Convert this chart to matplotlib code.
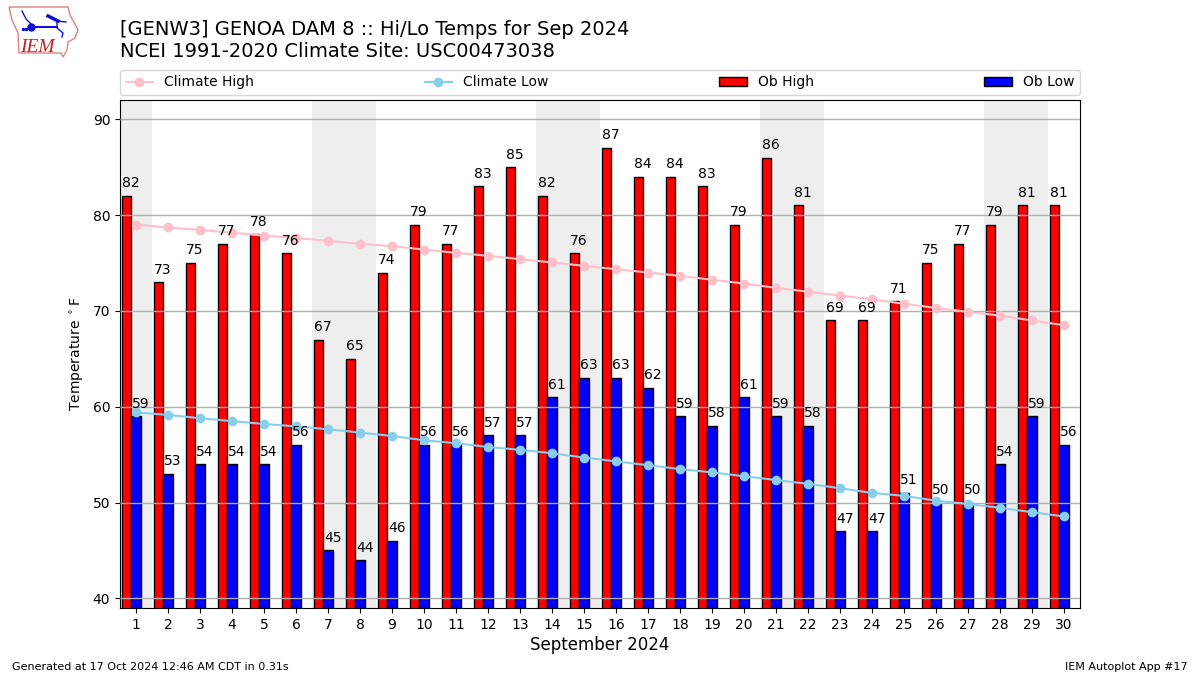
"""[GENW3] Hi/Lo temps for Sep 2024, with the NCEI climate lines."""
import numpy as np
import matplotlib
matplotlib.use('Agg')
import matplotlib.pyplot as plt
from matplotlib.patches import Polygon

# ---- data
days = np.arange(1, 31)
ob_high = [82, 73, 75, 77, 78, 76, 67, 65, 74, 79, 77, 83, 85, 82, 76,
           87, 84, 84, 83, 79, 86, 81, 69, 69, 71, 75, 77, 79, 81, 81]
ob_low = [59, 53, 54, 54, 54, 56, 45, 44, 46, 56, 56, 57, 57, 61, 63,
          63, 62, 59, 58, 61, 59, 58, 47, 47, 51, 50, 50, 54, 59, 56]
climate_high = [79.0, 78.7, 78.45, 78.15, 77.85, 77.6, 77.3, 77.0, 76.75, 76.4,
                76.05, 75.75, 75.4, 75.05, 74.7, 74.35, 74.0, 73.65, 73.25, 72.85,
                72.4, 72.0, 71.6, 71.2, 70.75, 70.3, 69.9, 69.5, 69.0, 68.5]
climate_low = [59.4, 59.15, 58.8, 58.5, 58.2, 57.95, 57.65, 57.3, 56.95, 56.5,
               56.2, 55.8, 55.5, 55.15, 54.7, 54.3, 53.9, 53.5, 53.15, 52.75,
               52.35, 51.95, 51.5, 51.0, 50.7, 50.2, 49.85, 49.45, 49.0, 48.55]
weekends = [1, 7, 8, 14, 15, 21, 22, 28, 29]

# ---- plot
fig = plt.figure(figsize=(12, 6.75), dpi=100)
ax = fig.add_axes([120 / 1200, 1 - 608 / 675, 960 / 1200, 508 / 675])

for d in weekends:
    ax.axvspan(d - 0.5, d + 0.5, color='#eeeeee', lw=0, zorder=0)

ax.bar(days - 0.3, ob_high, width=0.3, color='r', edgecolor='k', label='Ob High', zorder=2)
ax.bar(days, ob_low, width=0.3, color='b', edgecolor='k', label='Ob Low', zorder=2)
ax.plot(days, climate_high, color='pink', marker='o', lw=1.5, label='Climate High', zorder=3)
ax.plot(days, climate_low, color='skyblue', marker='o', lw=1.5, label='Climate Low', zorder=3)

for d, hi, lo in zip(days, ob_high, ob_low):
    ax.text(d - 0.43, hi + 0.58, str(hi), ha='left', va='bottom', fontsize=10, zorder=4)
    ax.text(d - 0.13, lo + 0.58, str(lo), ha='left', va='bottom', fontsize=10, zorder=4)

ax.set_xlim(0.5, 30.5)
ax.set_ylim(39, 92)
ax.set_xticks(days)
ax.set_yticks(range(40, 100, 10))
ax.yaxis.grid(True, color='#b0b0b0', lw=1, zorder=2.5)
ax.set_axisbelow(False)
ax.set_xlabel('September 2024', fontsize=12, labelpad=3)
ax.set_ylabel(r'Temperature $^\circ$F', labelpad=5)

handles, labels = ax.get_legend_handles_labels()
order = [labels.index(n) for n in ('Climate High', 'Climate Low', 'Ob High', 'Ob Low')]
ax.legend([handles[i] for i in order], [labels[i] for i in order], ncol=4, mode='expand',
          loc='lower left', bbox_to_anchor=(0, 1.01, 1, 0.05), borderaxespad=0, fontsize=10)

# ---- titles and footer
fig.text(120 / 1200, 1 - 35 / 675, '[GENW3] GENOA DAM 8 :: Hi/Lo Temps for Sep 2024', fontsize=14, va='baseline')
fig.text(120 / 1200, 1 - 57 / 675, 'NCEI 1991-2020 Climate Site: USC00473038', fontsize=14, va='baseline')
fig.text(12 / 1200, 1 - 670 / 675, 'Generated at 17 Oct 2024 12:46 AM CDT in 0.31s', fontsize=8, va='baseline')
fig.text(1188 / 1200, 1 - 670 / 675, 'IEM Autoplot App #17', fontsize=8, ha='right', va='baseline')

# ---- logo, rough copy, in pixel coordinates of the figure
logo = fig.add_axes([0, 0, 1, 1], facecolor='none')
logo.set_xlim(0, 1200)
logo.set_ylim(675, 0)
logo.axis('off')
iowa = [(9, 7), (68, 7), (70, 15), (78, 30), (75, 38), (68, 42), (67, 50), (63, 57),
        (61, 53), (19, 53), (18, 33), (12, 20)]
logo.add_patch(Polygon(iowa, closed=True, fill=False, ec='#e08080', lw=1))
blue = '#1010d0'
logo.plot([32, 57], [27, 27], color=blue, lw=1.5)
logo.plot([31], [27], 'o', color=blue, ms=5)
logo.plot([48, 58], [16, 21], color=blue, lw=2.5)
logo.plot([57, 66], [21, 22], color=blue, lw=1)
logo.plot([57, 57, 63, 62], [21, 28, 33, 37], color=blue, lw=1)
logo.plot([22, 26, 31], [11, 19, 24], color=blue, lw=1)
logo.plot([23, 26], [29, 29], 'o', color=blue, ms=1.5)
logo.text(20.5, 52, 'IEM', family='Liberation Serif', style='italic', color='#c02020', fontsize=14, va='baseline')

fig.savefig('out.png', dpi=100)
